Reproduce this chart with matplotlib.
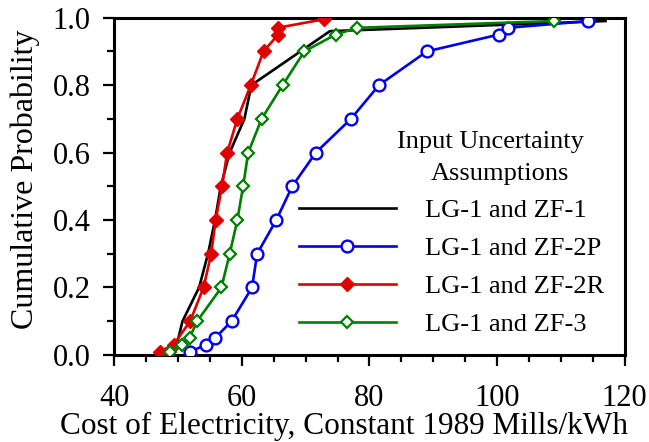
import numpy as np
import matplotlib
matplotlib.use("Agg")
import matplotlib.pyplot as plt
from matplotlib.ticker import MultipleLocator

# font: Times-like serif
plt.rcParams['font.family'] = ['Liberation Serif', 'DejaVu Serif']
plt.rcParams['font.size'] = 19

# data
# LG-1 and ZF-1 (no markers)
x_zf1 = [48.6, 49.8, 50.7, 53.3, 54.7, 55.8, 56.7, 58.1, 60.4, 61.5, 73.8, 117.0]
p_zf1 = [0.01, 0.03, 0.10, 0.20, 0.30, 0.40, 0.50, 0.60, 0.70, 0.80, 0.96, 0.99]

# LG-1 and ZF-2P
x_zf2p = [51.9, 54.4, 55.8, 58.4, 61.6, 62.4, 65.4, 67.9, 71.6, 77.1, 81.5, 89.0, 100.3, 101.7, 114.3]
p_zf2p = [0.01, 0.03, 0.05, 0.10, 0.20, 0.30, 0.40, 0.50, 0.60, 0.70, 0.80, 0.90, 0.95, 0.97, 0.99]

# LG-1 and ZF-2R
x_zf2r = [47.1, 49.3, 51.9, 54.0, 55.2, 55.9, 56.9, 57.7, 59.3, 61.4, 63.4, 65.7, 65.6, 72.8]
p_zf2r = [0.01, 0.03, 0.10, 0.20, 0.30, 0.40, 0.50, 0.60, 0.70, 0.80, 0.90, 0.95, 0.97, 0.995]

# LG-1 and ZF-3
x_zf3 = [48.8, 50.7, 51.8, 53.0, 56.8, 58.1, 59.3, 60.2, 61.0, 63.1, 66.4, 69.8, 74.7, 78.1, 108.9]
p_zf3 = [0.01, 0.03, 0.05, 0.10, 0.20, 0.30, 0.40, 0.50, 0.60, 0.70, 0.80, 0.90, 0.95, 0.97, 0.99]

labels = ["LG-1 and ZF-1", "LG-1 and ZF-2P", "LG-1 and ZF-2R", "LG-1 and ZF-3"]

fig = plt.figure(figsize=(6.49, 4.42), dpi=100)
ax = fig.add_axes([0.176, 0.197, 0.7865, 0.763])

lw = 1.9
ax.plot(x_zf1, p_zf1, color='black', lw=lw, label=labels[0], zorder=2)
ax.plot(x_zf2p, p_zf2p, color='#0000ee', lw=lw, marker='o', ms=8.5, mfc='white',
        mec='#0000ee', mew=1.7, label=labels[1], zorder=3)
ax.plot(x_zf2r, p_zf2r, color='#e00000', lw=lw, marker='D', ms=7, mfc='#e00000',
        mec='#e00000', label=labels[2], zorder=4)
ax.plot(x_zf3, p_zf3, color='#008000', lw=lw, marker='D', ms=5.8, mfc='white',
        mec='#008000', mew=1.6, label=labels[3], zorder=5)

ax.set_xlim(40, 120)
ax.set_ylim(0, 1.0)
ax.xaxis.set_major_locator(MultipleLocator(20))
ax.xaxis.set_minor_locator(MultipleLocator(5))
ax.yaxis.set_major_locator(MultipleLocator(0.2))
ax.yaxis.set_minor_locator(MultipleLocator(0.1))
ax.yaxis.set_major_formatter(matplotlib.ticker.FormatStrFormatter('%.1f'))

ax.tick_params(which='major', direction='out', length=8, width=1.6, top=False, right=False,
               labelsize=22)
ax.tick_params(which='minor', direction='out', length=4.7, width=1.6, top=False, right=False)
ax.tick_params(axis='x', which='major', pad=13)
ax.tick_params(axis='y', which='major', pad=9)
for s in ax.spines.values():
    s.set_linewidth(2.2)

ax.set_xlabel("Cost of Electricity, Constant 1989 Mills/kWh", fontsize=22.5)
ax.xaxis.label.set_va('baseline')
ax.xaxis.set_label_coords(0.45, -0.234)
ax.set_ylabel("Cumulative Probability", fontsize=23)
ax.yaxis.set_label_coords(-0.146, 0.52)

#Legend block:
ax.text(0.737, 0.630, "Input Uncertainty", transform=ax.transAxes, ha='center', va='center')
ax.text(0.756, 0.536, "Assumptions", transform=ax.transAxes, ha='center', va='center')
ax.legend(loc='lower left', bbox_to_anchor=(0.325, 0.0), frameon=False,
          handlelength=3.7, handletextpad=1.1, labelspacing=0.55, borderaxespad=0.3)

plt.savefig("out.png", dpi=100)
